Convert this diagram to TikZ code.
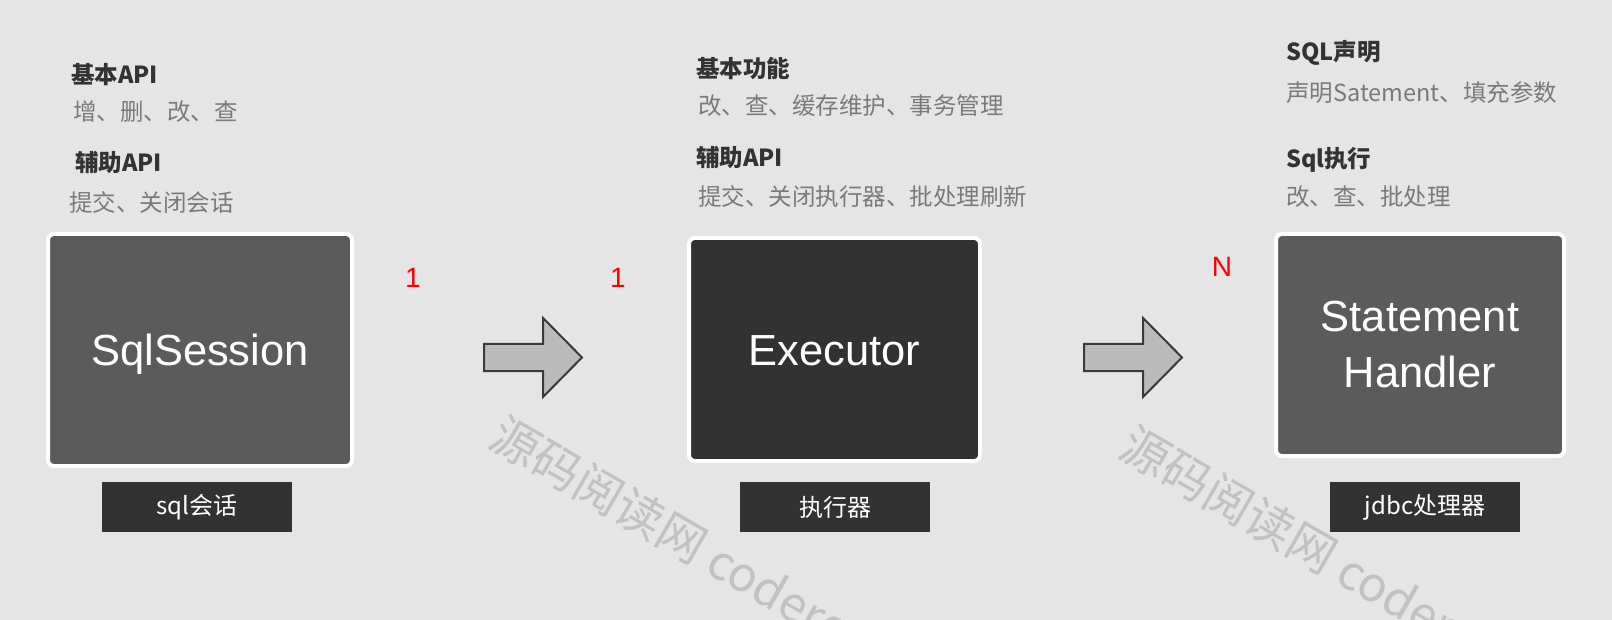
\documentclass[tikz,border=0pt]{standalone}
\usepackage{fontspec}
\setmainfont{Noto Sans CJK SC}
\newfontfamily\latfont{Liberation Sans}
\definecolor{bg}{HTML}{E5E5E5}
\definecolor{boxgray}{HTML}{5B5B5B}
\definecolor{boxdark}{HTML}{323232}
\definecolor{txtdark}{HTML}{333333}
\definecolor{txtgray}{HTML}{7A7A7A}
\definecolor{arrowfill}{HTML}{BBBBBB}
\definecolor{arrowline}{HTML}{3A3A3A}
\definecolor{wmark}{HTML}{C2C2C2}
\begin{document}
\begin{tikzpicture}[x=1pt,y=-1pt,
  headtxt/.style={anchor=west, inner sep=0pt, font=\fontsize{23.5}{28}\selectfont\bfseries, text=txtdark},
  desctxt/.style={anchor=west, inner sep=0pt, font=\fontsize{23.5}{28}\selectfont, text=txtgray},
  bigbox/.style={rounded corners=6pt, draw=white, line width=4pt, inner sep=0pt, text=white, font=\latfont\fontsize{43.5}{56}\selectfont, align=center},
  tagbox/.style={fill=boxdark, minimum width=190pt, minimum height=50pt, inner sep=0pt, text=white, font=\fontsize{24}{28}\selectfont},
  mult/.style={inner sep=0pt, text=red, font=\latfont\fontsize{28}{32}\selectfont},
  blockarrow/.style={fill=arrowfill, draw=arrowline, line width=2pt, line join=miter},
  wm/.style={anchor=west, inner sep=0pt, rotate=-30, text=wmark, font=\fontsize{48}{52}\selectfont}
]
\useasboundingbox[fill=bg] (0,0) rectangle (1612,620);
\begin{scope}
\clip (0,0) rectangle (1612,620);
\node[wm] (wm1) at (495,430) {源码阅读网 coderead};
\node[wm] (wm2) at (1125,440) {源码阅读网 coderead};
\end{scope}

% SqlSession column
\node[headtxt] (h1a) at (71,75) {基本API};
\node[desctxt] (d1a) at (73,112) {增、删、改、查};
\node[headtxt] (h1b) at (75,162) {辅助API};
\node[desctxt] (d1b) at (69,202) {提交、关闭会话};
\node[bigbox, fill=boxgray, minimum width=304pt, minimum height=232pt, text height=31pt, text depth=0pt] (session) at (200,350) {SqlSession};
\node[tagbox] (tag1) at (197,507) {sql会话};

% Executor column
\node[headtxt] (h2a) at (696,69) {基本功能};
\node[desctxt] (d2a) at (698,106) {改、查、缓存维护、事务管理};
\node[headtxt] (h2b) at (696,157) {辅助API};
\node[desctxt] (d2b) at (698,197) {提交、关闭执行器、批处理刷新};
\node[bigbox, fill=boxdark, minimum width=291pt, minimum height=223pt, text height=31pt, text depth=0pt] (executor) at (834.5,349.5) {Executor};
\node[tagbox] (tag2) at (835,507) {执行器};

% StatementHandler column
\node[headtxt] (h3a) at (1286,53) {SQL声明};
\node[desctxt] (d3a) at (1286,93) {声明Satement、填充参数};
\node[headtxt] (h3b) at (1286,160) {Sql执行};
\node[desctxt] (d3b) at (1286,197) {改、查、批处理};
\node[bigbox, fill=boxgray, minimum width=288pt, minimum height=222pt] (handler) at (1420,345) {Statement\\Handler};
\node[tagbox] (tag3) at (1425,507) {jdbc处理器};

% multiplicities
\node[mult] (m1) at (413,278) {1};
\node[mult] (m2) at (618,278) {1};
\node[mult] (m3) at (1222,267) {N};

% block arrows
\draw[blockarrow] (484,344) -- (543,344) -- (543,318) -- (582,357.5) -- (543,397) -- (543,371) -- (484,371) -- cycle;
\draw[blockarrow] (1084,344) -- (1143,344) -- (1143,318) -- (1182,357.5) -- (1143,397) -- (1143,371) -- (1084,371) -- cycle;
\end{tikzpicture}
\end{document}
